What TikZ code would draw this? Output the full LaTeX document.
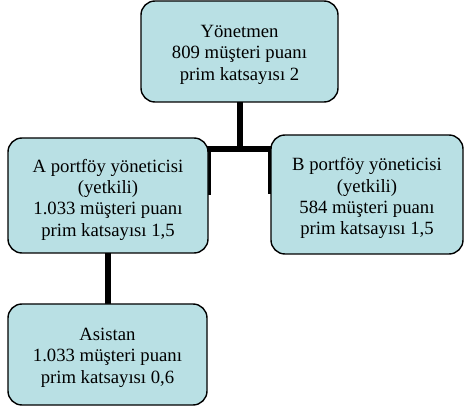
\documentclass[tikz,border=0pt]{standalone}
\usepackage{fontspec}
\setmainfont{Liberation Serif}
\definecolor{boxfill}{RGB}{185,224,228}
\newcommand\boxtext[2]{\raisebox{-#1}[\height][\depth]{\begin{tabular}{@{}c@{}}#2\end{tabular}}}
\begin{document}
\begin{tikzpicture}[x=1pt,y=-1pt,
  box/.style={draw=black, line width=1.4pt, fill=boxfill, rounded corners=14pt,
    font=\fontsize{18.7}{21.3}\selectfont, inner sep=0pt},
  conn/.style={draw=black, line width=6pt}]
\useasboundingbox (0,0) rectangle (464,409);
% connector anchor points
\coordinate (j) at (239.5,149);
\coordinate (topS) at (239.5,102);
\coordinate (aE) at (208,195.5);
\coordinate (bW) at (271,194.5);
\coordinate (aS) at (108,253);
\coordinate (sN) at (108,304);
% connectors first (behind boxes)
\draw[conn] (topS) -- (j);
\draw[conn] (aE) |- (j) -| (bW);
\draw[conn] (aS) -- (sN);
% boxes
\node[box, minimum width=197pt, minimum height=101pt] (top) at (239.5,51.5)
  {\boxtext{3pt}{Yönetmen\\809 müşteri puanı\\prim katsayısı 2}};
\node[box, minimum width=200pt, minimum height=115pt] (A) at (108,195.5)
  {\boxtext{4.5pt}{A portföy yöneticisi\\(yetkili)\\1.033 müşteri puanı\\prim katsayısı 1,5}};
\node[box, minimum width=192pt, minimum height=119pt] (B) at (367,194.5)
  {\boxtext{4pt}{B portföy yöneticisi\\(yetkili)\\584 müşteri puanı\\prim katsayısı 1,5}};
\node[box, minimum width=199pt, minimum height=101pt] (S) at (107.5,354.5)
  {\boxtext{3pt}{Asistan\\1.033 müşteri puanı\\prim katsayısı 0,6}};
\end{tikzpicture}
\end{document}
